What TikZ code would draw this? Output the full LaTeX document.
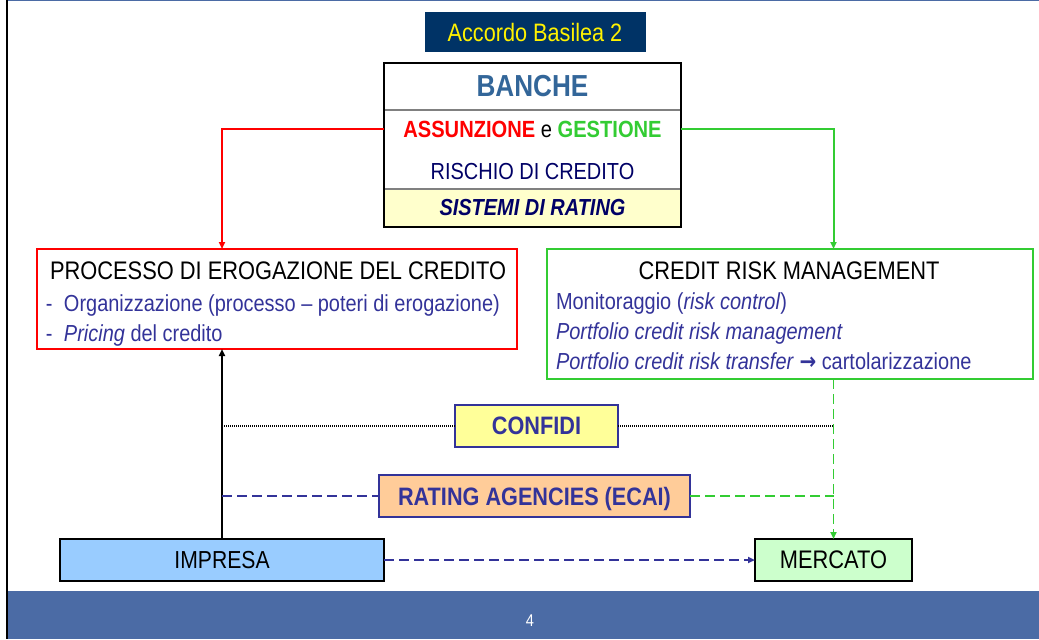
\documentclass[tikz,border=0pt]{standalone}
\usepackage{fontspec}
\setmainfont{Liberation Sans}[FakeStretch=0.86]
\newfontfamily\frecciafont{DejaVu Sans}[FakeStretch=0.86]
\usepackage{tikz}
\usetikzlibrary{arrows.meta,positioning}
\usepackage{xcolor}

\definecolor{fondonavy}{HTML}{003366}
\definecolor{bancheblu}{HTML}{336699}
\definecolor{testoblu}{HTML}{333399}
\definecolor{scuroblu}{HTML}{000066}
\definecolor{rosso}{HTML}{FF0000}
\definecolor{verde}{HTML}{33CC33}
\definecolor{giallino}{HTML}{FFFFCC}
\definecolor{giallo}{HTML}{FFFF99}
\definecolor{pesca}{HTML}{FFCC99}
\definecolor{azzurro}{HTML}{99CCFF}
\definecolor{verdino}{HTML}{CCFFCC}
\definecolor{piede}{RGB}{75,107,165}

\newcommand{\fsz}[1]{\fontsize{#1}{#1}\selectfont}

\begin{document}
\begin{tikzpicture}[x=0.5pt, y=-0.5pt,
    every node/.style={inner sep=0pt, outer sep=0pt},
    cella/.style={draw=gray, line width=0.75pt, minimum width=148.5pt},
    cornice/.style={line width=1pt, minimum height=21pt},
    titolo/.style={anchor=base, font=\fsz{12.7}},
    voce/.style={anchor=base west, text=testoblu, font=\fsz{11.6}},
    freccia/.style={-{Triangle[length=3.5pt, width=3pt]}},
    tratto/.style={line width=0.9pt, dash pattern=on 5pt off 2.5pt},
    puntini/.style={line width=0.8pt, dash pattern=on 0.5pt off 0.5pt}
]
\useasboundingbox (0,0) rectangle (1039,639);

% ---- Sfondo ----
\fill[piede] (7,591) rectangle (1039,639);
\draw[piede, line width=0.75pt] (7,0.5) -- (1039,0.5);
\draw[line width=1pt] (7,0) -- (7,639);
\node[text=white, font=\fsz{8.5}] (pagina) at (530,621) {4};

% ---- Titolo ----
\node[fill=fondonavy, minimum width=110.5pt, minimum height=20pt,
      text=yellow, font=\fsz{12.6}] (accordo) at (535,32) {Accordo Basilea 2};

% ---- Banche ----
\node[cella, minimum height=23.5pt, text=bancheblu, font=\bfseries\fsz{15.2}]
  (bA) at (532.5,86.5) {BANCHE};
\node[cella, minimum height=39.5pt] (bB) at (532.5,149.5) {};
\node[cella, minimum height=19pt, fill=giallino, text=scuroblu,
      font=\bfseries\itshape\fsz{11.6}] (bC) at (532.5,208) {SISTEMI DI RATING};
\draw[line width=1.2pt] (bA.north west) rectangle (bC.south east);

\node[anchor=base, font=\bfseries\fsz{11.7}] (assgest) at (532.5,137)
  {\textcolor{rosso}{ASSUNZIONE} {\mdseries e} \textcolor{verde}{GESTIONE}};
\node[anchor=base, text=scuroblu, font=\fsz{11.6}] (rischio) at (532.5,179)
  {RISCHIO DI CREDITO};

% ---- Processo di erogazione ----
\node[draw=rosso, line width=1pt, minimum width=240pt, minimum height=50pt]
  (proc) at (277,299) {};
\node[titolo] (procT) at (278,279) {PROCESSO DI EROGAZIONE DEL CREDITO};
\node[voce] (procA) at (46,311)
  {\makebox[9pt][l]{-}Organizzazione (processo -- poteri di erogazione)};
\node[voce] (procB) at (46,341) {\makebox[9pt][l]{-}\textit{Pricing} del credito};

% ---- Credit risk management ----
\node[draw=verde, line width=1pt, minimum width=243pt, minimum height=65pt]
  (crm) at (790,314) {};
\node[titolo] (crmT) at (789,279) {CREDIT RISK MANAGEMENT};
\node[voce] (crmA) at (556,309) {Monitoraggio (\textit{risk control})};
\node[voce] (crmB) at (556,339) {\textit{Portfolio credit risk management}};
\node[voce] (crmC) at (556,369)
  {\textit{Portfolio credit risk transfer} {\frecciafont\bfseries →} cartolarizzazione};

% ---- Confidi e agenzie ----
\node[draw=testoblu, line width=0.75pt, fill=giallo, minimum width=81.5pt,
      minimum height=21pt, text=testoblu, font=\bfseries\fsz{12.6}]
  (confidi) at (536.5,426) {CONFIDI};
\node[draw=testoblu, line width=0.75pt, fill=pesca, minimum width=155.5pt,
      minimum height=21pt, text depth=0pt, text=testoblu, font=\bfseries\fsz{12.6}]
  (rating) at (534.5,496) {RATING AGENCIES (ECAI)};

% ---- Impresa e mercato ----
\node[draw, cornice, fill=azzurro, minimum width=162pt, font=\fsz{12.3}]
  (impresa) at (222,560) {IMPRESA};
\node[draw, cornice, fill=verdino, minimum width=78.5pt, font=\fsz{12.7}]
  (mercato) at (833.5,560) {MERCATO};

% Frecce
\draw[rosso, line width=1pt, freccia] (assgest -| bB.west) -| (proc.north -| impresa.north);
\draw[verde, line width=1pt, freccia] (assgest -| bB.east) -| (crm.north -| mercato.north);
\draw[line width=1pt, freccia] (impresa.north) -- (impresa.north |- proc.south);

\draw[puntini] (confidi.west -| impresa.north) -- (confidi.west);
\draw[puntini] (confidi.east) -- (confidi.east -| mercato.north);

\draw[tratto, testoblu] (rating.west -| impresa.north) -- (rating.west);
\draw[tratto, verde] (rating.east) -- (rating.east -| mercato.north);
\draw[tratto, verde, freccia] (crm.south -| mercato.north) -- (mercato.north);
\draw[tratto, testoblu, freccia] (impresa.east) -- (mercato.west);

\end{tikzpicture}
\end{document}
